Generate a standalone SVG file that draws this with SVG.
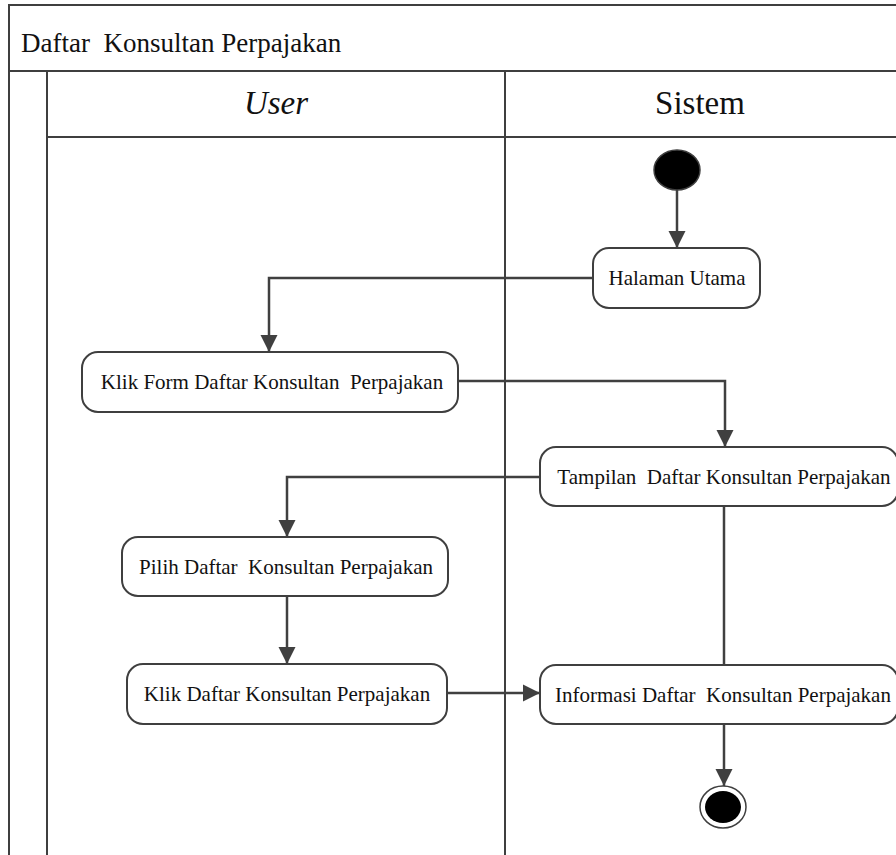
<svg xmlns="http://www.w3.org/2000/svg" width="896" height="855" viewBox="0 0 896 855">
<style>
.frame{stroke:#3f3f3f;stroke-width:2;fill:none}
.node rect{fill:#fff;stroke:#3f3f3f;stroke-width:2}
.lbl{font-family:"Liberation Serif","Times New Roman","DejaVu Serif",serif;font-size:21px;fill:#111;text-anchor:middle;white-space:pre}
.hdr{font-family:"Liberation Serif","Times New Roman","DejaVu Serif",serif;font-size:33px;fill:#111;text-anchor:middle}
.ttl{font-family:"Liberation Serif","Times New Roman","DejaVu Serif",serif;font-size:27px;fill:#111;white-space:pre}
.conn{stroke:#404040;stroke-width:2.5;fill:none}
</style>
<defs>
<marker id="ah" viewBox="0 0 10 10" refX="10" refY="5" markerWidth="7" markerHeight="7" markerUnits="strokeWidth" orient="auto">
<path d="M0,0 L10,5 L0,10 z" fill="#404040"/>
</marker>
</defs>
<rect width="896" height="855" fill="#fff"/>
<g id="frame">
<path class="frame" d="M9,855 V5 H897 M9,71 H897 M47,71 V855 M47,137 H897 M505,71 V855"/>
<text class="ttl" x="21" y="52" xml:space="preserve">Daftar  Konsultan Perpajakan</text>
<text class="hdr" x="276" y="114" font-style="italic">User</text>
<text class="hdr" x="700" y="114">Sistem</text>
</g>
<g id="connectors">
<path class="conn" d="M677,190 V248" marker-end="url(#ah)"/>
<path class="conn" d="M593,278 H269 V352" marker-end="url(#ah)"/>
<path class="conn" d="M458,381 H725 V447" marker-end="url(#ah)"/>
<path class="conn" d="M540,477 H287 V537" marker-end="url(#ah)"/>
<path class="conn" d="M287,596 V664" marker-end="url(#ah)"/>
<path class="conn" d="M447,693 H540" marker-end="url(#ah)"/>
<path class="conn" d="M724,506 V665"/>
<path class="conn" d="M724,724 V786" marker-end="url(#ah)"/>
</g>
<g id="start">
<ellipse cx="677" cy="170" rx="23" ry="20" fill="#000" stroke="#3f3f3f" stroke-width="1.5"/>
</g>
<g id="halaman-utama" class="node">
<rect x="593" y="248" width="167" height="60" rx="16"/>
<text class="lbl" x="677" y="285">Halaman Utama</text>
</g>
<g id="klik-form" class="node">
<rect x="82" y="352" width="376" height="60" rx="16"/>
<text class="lbl" x="272" y="389" xml:space="preserve">Klik Form Daftar Konsultan  Perpajakan</text>
</g>
<g id="tampilan" class="node">
<rect x="540" y="447" width="358" height="59" rx="16"/>
<text class="lbl" x="724" y="484" xml:space="preserve">Tampilan  Daftar Konsultan Perpajakan</text>
</g>
<g id="pilih" class="node">
<rect x="122" y="537" width="326" height="59" rx="16"/>
<text class="lbl" x="286" y="574" xml:space="preserve">Pilih Daftar  Konsultan Perpajakan</text>
</g>
<g id="klik-daftar" class="node">
<rect x="127" y="664" width="320" height="60" rx="16"/>
<text class="lbl" x="287" y="701">Klik Daftar Konsultan Perpajakan</text>
</g>
<g id="informasi" class="node">
<rect x="540" y="665" width="358" height="59" rx="16"/>
<text class="lbl" x="723" y="702" xml:space="preserve">Informasi Daftar  Konsultan Perpajakan</text>
</g>
<g id="end">
<ellipse cx="723" cy="807" rx="23" ry="21" fill="#fff" stroke="#3f3f3f" stroke-width="1.5"/>
<ellipse cx="723" cy="807" rx="18" ry="16" fill="#000"/>
</g>
</svg>
